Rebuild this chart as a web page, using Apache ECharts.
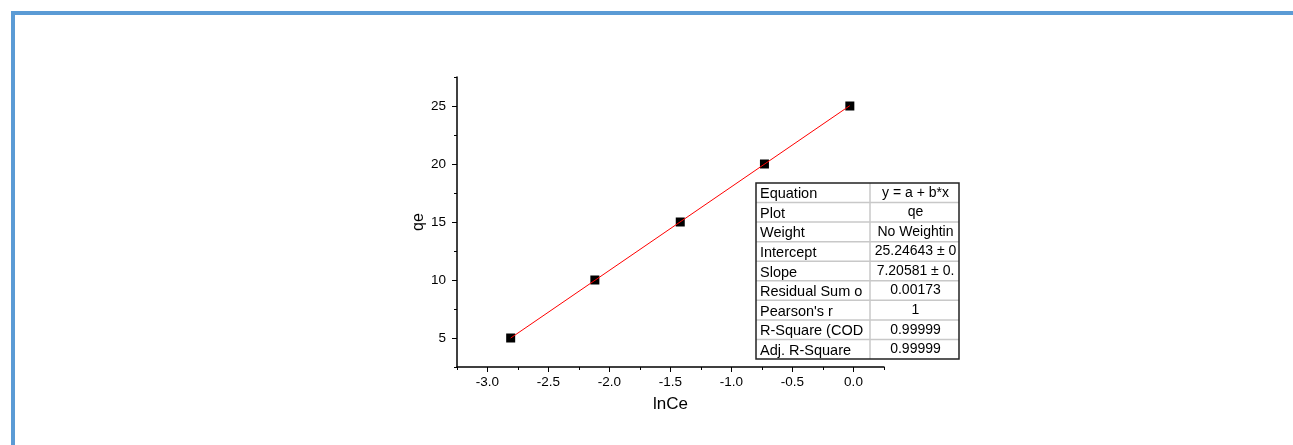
<!DOCTYPE html>
<html>
<head>
<meta charset="utf-8">
<script src="https://cdn.jsdelivr.net/npm/echarts@6/dist/echarts.min.js"></script>
<style>
html,body{margin:0;padding:0;background:#fff;}
#chart{width:1293px;height:445px;}
</style>
</head>
<body>
<div id="chart"></div>
<script>
// Data
var lnCe = [-2.81, -2.12, -1.42, -0.73, -0.03];
var qe = [5, 10, 15, 20, 25];
var fitX = [-2.81, -0.03];
var fitY = [4.998, 25.03];
var xTickValues = [-3.0, -2.5, -2.0, -1.5, -1.0, -0.5, 0.0];
var yTickValues = [5, 10, 15, 20, 25];
var tableLabels = ['Equation', 'Plot', 'Weight', 'Intercept', 'Slope', 'Residual Sum o', "Pearson's r", 'R-Square (COD', 'Adj. R-Square'];
var tableValues = ['y = a + b*x', 'qe', 'No Weightin', '25.24643 \u00b1 0', '7.20581 \u00b1 0.', '0.00173', '1', '0.99999', '0.99999'];

var chart = echarts.init(document.getElementById('chart'));
var font = 'Liberation Sans, Arial, sans-serif';

// Table graphic
var tX = 756, tY = 183, tW = 203, tH = 176, divX = 870;
var rowH = tH / tableLabels.length;
var graphics = [
  {type:'rect', shape:{x:11, y:11, width:1282, height:4}, style:{fill:'#5B9BD5'}, z:100},
  {type:'rect', shape:{x:11, y:11, width:4, height:434}, style:{fill:'#5B9BD5'}, z:100}
];
graphics.push({type:'rect', shape:{x:tX, y:tY, width:tW, height:tH}, style:{fill:'#fff', stroke:'none'}, z:50});
for (var i = 1; i < tableLabels.length; i++) {
  graphics.push({type:'line', shape:{x1:tX, y1:tY + rowH*i, x2:tX+tW, y2:tY + rowH*i}, style:{stroke:'#c8c8c8', lineWidth:1.5}, z:51});
}
graphics.push({type:'line', shape:{x1:divX, y1:tY, x2:divX, y2:tY+tH}, style:{stroke:'#c8c8c8', lineWidth:1.5}, z:51});
graphics.push({type:'rect', shape:{x:tX, y:tY, width:tW, height:tH}, style:{fill:'none', stroke:'#222', lineWidth:1.5}, z:52});
for (var j = 0; j < tableLabels.length; j++) {
  graphics.push({type:'text', x:tX+4, y:tY + rowH*(j+0.5) + 1.5, style:{text:tableLabels[j], font:'14.5px ' + font, fill:'#000', verticalAlign:'middle', align:'left'}, z:53});
  graphics.push({type:'text', x:(divX + tX + tW)/2 + 1, y:tY + rowH*(j+0.5), style:{text:tableValues[j], font:'14px ' + font, fill:'#000', verticalAlign:'middle', align:'center'}, z:53});
}

var option = {
  animation: false,
  backgroundColor: '#fff',
  textStyle: {fontFamily: font},
  grid: {left: 457, right: 409, top: 77, bottom: 78},
  xAxis: [{
    type: 'value', min: -3.25, max: 0.25, position: 'bottom',
    name: 'lnCe', nameLocation: 'middle', nameGap: 29,
    nameTextStyle: {fontSize: 17, color: '#000', fontFamily: font},
    axisLine: {show: true, onZero: false, lineStyle: {color: '#000', width: 1.5}},
    axisTick: {show: true, inside: false, length: 5, customValues: xTickValues, lineStyle: {color: '#000', width: 1}},
    axisLabel: {customValues: xTickValues, fontSize: 13.5, color: '#000', margin: 8, fontFamily: font,
      formatter: function (v) { return v.toFixed(1); }},
    splitLine: {show: false}
  }, {
    type: 'value', min: -3.25, max: 0.25, interval: 0.25, position: 'bottom',
    axisLine: {show: false, onZero: false},
    axisTick: {show: true, length: 3, lineStyle: {color: '#000', width: 1}},
    axisLabel: {show: false},
    splitLine: {show: false}
  }],
  yAxis: [{
    type: 'value', min: 2.5, max: 27.5, position: 'left',
    name: 'qe', nameLocation: 'middle', nameGap: 30, nameRotate: 90,
    nameTextStyle: {fontSize: 16, color: '#000', fontFamily: font},
    axisLine: {show: true, onZero: false, lineStyle: {color: '#000', width: 1.5}},
    axisTick: {show: true, length: 5, customValues: yTickValues, lineStyle: {color: '#000', width: 1}},
    axisLabel: {customValues: yTickValues, fontSize: 13.5, color: '#000', margin: 11, fontFamily: font},
    splitLine: {show: false}
  }, {
    type: 'value', min: 2.5, max: 27.5, interval: 2.5, position: 'left',
    axisLine: {show: false, onZero: false},
    axisTick: {show: true, length: 3, lineStyle: {color: '#000', width: 1}},
    axisLabel: {show: false},
    splitLine: {show: false}
  }],
  series: [{
    type: 'scatter', xAxisIndex: 0, yAxisIndex: 0,
    data: lnCe.map(function (x, i) { return [x, qe[i]]; }),
    symbol: 'rect', symbolSize: 9,
    itemStyle: {color: '#000', opacity: 1}, z: 2
  }, {
    type: 'line', xAxisIndex: 0, yAxisIndex: 0,
    data: fitX.map(function (x, i) { return [x, fitY[i]]; }),
    showSymbol: false, symbol: 'none',
    lineStyle: {color: '#ff0000', width: 1}, z: 3
  }],
  graphic: graphics
};
chart.setOption(option);
</script>
</body>
</html>
